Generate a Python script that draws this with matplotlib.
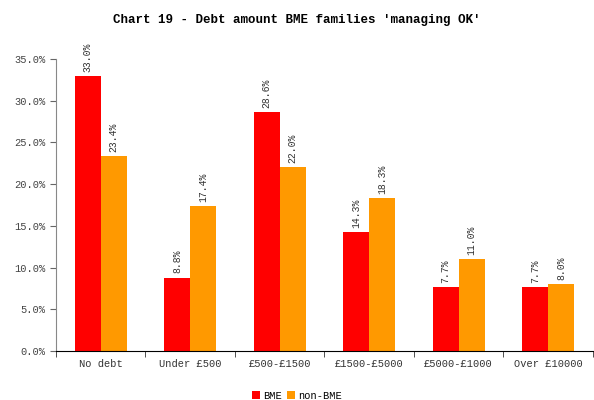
import matplotlib
matplotlib.use("Agg")
import matplotlib.pyplot as plt
import numpy as np

categories = ["No debt", "Under £500", "£500-£1500", "£1500-£5000", "£5000-£1000", "Over £10000"]
bme = [33.0, 8.8, 28.6, 14.3, 7.7, 7.7]
non_bme = [23.4, 17.4, 22.0, 18.3, 11.0, 8.0]

plt.rcParams['font.family'] = ['Liberation Mono', 'DejaVu Sans']

fig = plt.figure(figsize=(5.94, 4.0), dpi=100)
ax = fig.add_axes([0.094, 0.1225, 0.904, 0.73])

x = np.arange(len(categories))
w = 0.29
b1 = ax.bar(x - w / 2, bme, w, color="#ff0000", label="BME")
b2 = ax.bar(x + w / 2, non_bme, w, color="#ff9900", label="non-BME")

for bars, vals in ((b1, bme), (b2, non_bme)):
    for r, v in zip(bars, vals):
        ax.text(r.get_x() + r.get_width() / 2, v + 0.5, "%.1f%%" % v,
                rotation=90, ha="center", va="bottom", fontsize=7, color="#333333")

ax.set_xlim(-0.5, len(categories) - 0.5)
ax.set_ylim(0, 35)
ax.set_yticks(np.arange(0, 35.1, 5))
ax.set_yticklabels(["%.1f%%" % t for t in np.arange(0, 35.1, 5)], fontsize=7.5, color="#444444")
ax.set_xticks(x)
ax.set_xticklabels(categories, fontsize=7.5, color="#333333")
ax.tick_params(axis="x", length=0, pad=6)
ax.set_xticks(np.arange(-0.5, len(categories)), minor=True)
ax.tick_params(axis="x", which="minor", length=4, direction="out", color="#333333")
ax.tick_params(axis="y", length=4, color="#666666")

for s in ("top", "right"):
    ax.spines[s].set_visible(False)
ax.spines["left"].set_color("#888888")
ax.spines["bottom"].set_color("#000000")

fig.suptitle("Chart 19 - Debt amount BME families 'managing OK'", y=0.965,
             fontsize=9, fontweight="bold")

fig.legend(loc="lower center", ncol=2, frameon=False, fontsize=7.5,
           handlelength=0.8, handleheight=0.8, handletextpad=0.3, columnspacing=0.5,
           bbox_to_anchor=(0.5, -0.025))

fig.savefig("out.png", dpi=100)
